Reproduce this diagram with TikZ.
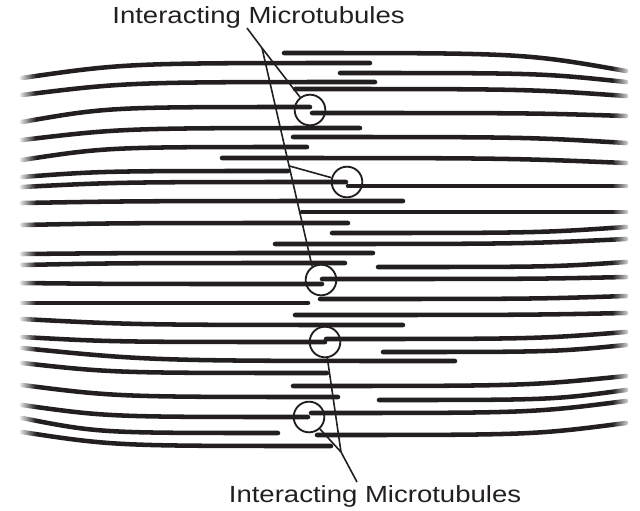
\documentclass[tikz,border=0pt]{standalone}
\usepackage{fontspec}
\newfontfamily\labelfont[FakeStretch=1.18]{Liberation Sans}
\usetikzlibrary{positioning, calc, fadings}
\definecolor{ink}{RGB}{35,31,32}

\begin{document}
\begin{tikzpicture}[x=0.75pt, y=-0.75pt]
        % thick strokes are the tubules, rings mark where two of them meet
        \tikzstyle{tubule}=[draw=ink, line width=3.4pt, line cap=round]
        \tikzstyle{ring}=[circle, draw=ink, line width=1.4pt, minimum size=23pt, inner sep=0pt]
        \tikzstyle{leader}=[draw=ink, line width=1.2pt]
        \tikzstyle{caption}=[text=ink, font=\labelfont\fontsize{17.5}{21}\selectfont, inner sep=0pt]

        \useasboundingbox (0,0) rectangle (640,511);

        % tubules coming in from the left
        \foreach \ya/\xe/\ye in {78/370/63, 95/375/82, 122/310/107, 140/360/128,
            160/307/147, 177/288/171, 187/346/182, 203/403/201, 225/348/223,
            254/373/253, 265/345/263, 283/322/284, 303/308/303, 319/403/325,
            337/325/342, 348/455/361, 363/327/373, 385/338/397, 405/308/417,
            418/278/433, 432/331/446}
          \draw[tubule] (22,\ya) .. controls ({22+0.3*(\xe-22)},\ye) .. (\xe,\ye);

        % tubules going out to the right
        \foreach \xs/\ys/\yb in {284/53/71, 340/73/82, 295/89/96, 312/113/116,
            293/137/143, 222/158/163, 348/186/186, 302/212/212, 332/233/227,
            275/244/239, 378/267/262, 322/279/277, 320/299/296, 295/315/313,
            326/339/332, 383/352/345, 293/386/376, 379/400/390, 311/413/401,
            317/435/423}
          \draw[tubule] (\xs,\ys) .. controls ({\xs+0.7*(626-\xs)},\ys) .. (626,\yb);

        % soft ends on both sides
        \fill[white, path fading=east] (18,40) rectangle (36,460);
        \fill[white, path fading=west] (612,40) rectangle (632,460);

        \node[ring] (c1) at (310,110) {};
        \node[ring] (c2) at (347,182) {};
        \node[ring] (c3) at (321,280) {};
        \node[ring] (c4) at (325,342) {};
        \node[ring] (c5) at (309,417) {};

        \node[caption, anchor=base] (topLabel) at (258.5,23) {Interacting Microtubules};
        \node[caption, anchor=base] (botLabel) at (375,502) {Interacting Microtubules};

        \coordinate (topTip) at (247,28);
        \coordinate (topFork) at (262,48);
        \coordinate (topBranch) at ($(topFork)!0.54!(c3.123)$);
        \coordinate (botFork) at (341,452);
        \coordinate (botTip) at (357,482);

        \draw[leader] (topTip) -- (topFork);
        \draw[leader] (topFork) -- (c1);
        \draw[leader] (topFork) -- (c3.123);
        \draw[leader] (topBranch) -- (c2);
        \draw[leader] (botTip) -- (botFork);
        \draw[leader] (botFork) -- (c4);
        \draw[leader] (botFork) -- (c5);
\end{tikzpicture}
\end{document}
